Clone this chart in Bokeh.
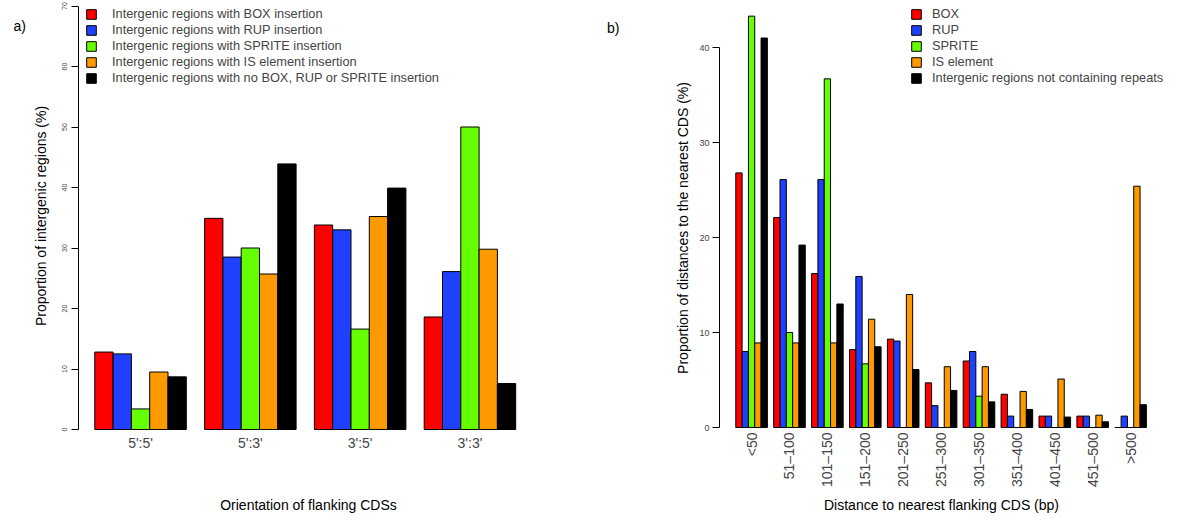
import math
from bokeh.plotting import figure
from bokeh.models import (Range1d, LinearAxis, FixedTicker, Legend, LegendItem,
                          Label, ColumnDataSource)
from bokeh.layouts import row
from bokeh.embed import file_html
from bokeh.resources import INLINE

FONT = "Liberation Sans"

# ---------------- data: panel a ----------------
orientations = ["5':5'", "5':3'", "3':5'", "3':3'"]
a_names = ["Intergenic regions with BOX insertion",
           "Intergenic regions with RUP insertion",
           "Intergenic regions with SPRITE insertion",
           "Intergenic regions with IS element insertion",
           "Intergenic regions with no BOX, RUP or SPRITE insertion"]
a_box = [12.8, 34.9, 33.8, 18.6]
a_rup = [12.5, 28.5, 33.0, 26.1]
a_sprite = [3.4, 30.0, 16.6, 50.0]
a_is = [9.5, 25.7, 35.2, 29.8]
a_none = [8.7, 43.9, 39.9, 7.6]
a_yticks = [0, 10, 20, 30, 40, 50, 60, 70]

# ---------------- data: panel b ----------------
distances = ["<50", "51\u2013100", "101\u2013150", "151\u2013200", "201\u2013250",
             "251\u2013300", "301\u2013350", "351\u2013400", "401\u2013450",
             "451\u2013500", ">500"]
b_names = ["BOX", "RUP", "SPRITE", "IS element",
           "Intergenic regions not containing repeats"]
b_box = [26.8, 22.1, 16.2, 8.2, 9.3, 4.7, 7.0, 3.5, 1.2, 1.2, 0.0]
b_rup = [8.0, 26.1, 26.1, 15.9, 9.1, 2.3, 8.0, 1.2, 1.2, 1.2, 1.2]
b_sprite = [43.3, 10.0, 36.7, 6.7, 0.0, 0.0, 3.3, 0.0, 0.0, 0.0, 0.0]
b_is = [8.9, 8.9, 8.9, 11.4, 14.0, 6.4, 6.4, 3.8, 5.1, 1.3, 25.4]
b_none = [41.0, 19.2, 13.0, 8.5, 6.1, 3.9, 2.7, 1.9, 1.1, 0.6, 2.4]
b_yticks = [0, 10, 20, 30, 40]

colors = ["#FF0000", "#2040FF", "#66FF00", "#FF9900", "#000000"]

NSER = 5          # bars per group
GAP = 1           # space between groups (in bar widths)

W, H = 592, 513   # each panel's canvas
MARGIN = 8        # page margin


class Mapper:
    """pixel (page) <-> data mapping of one panel, its frame filling the canvas."""
    def __init__(self, left_px, unit0_px, unit_px, zero_px, val_px):
        self.left_px = left_px
        self.unit0_px, self.unit_px = unit0_px, unit_px
        self.zero_px, self.val_px = zero_px, val_px

    def x(self, px):
        return (px - self.unit0_px) / self.unit_px

    def y(self, py):
        return (self.zero_px - py) / self.val_px

    def ranges(self):
        x0, x1 = self.x(self.left_px), self.x(self.left_px + W)
        y0, y1 = self.y(MARGIN + H), self.y(MARGIN)
        return Range1d(x0, x1), Range1d(y0, y1)


def base_fig(m):
    xr, yr = m.ranges()
    p = figure(width=W, height=H, x_range=xr, y_range=yr,
               output_backend="svg", toolbar_location=None,
               x_axis_location=None, y_axis_location=None,
               min_border=0, min_border_left=0, min_border_right=0,
               min_border_top=0, min_border_bottom=0)
    p.outline_line_color = None
    p.grid.visible = False
    p.background_fill_color = "white"
    p.border_fill_color = "white"
    return p


def grouped_bars(p, series, names, ncat):
    items = []
    for k, (vals, name, col) in enumerate(zip(series, names, colors)):
        xs = [1 + (NSER + GAP) * g + k + 0.5 for g in range(ncat)]
        src = ColumnDataSource(dict(x=xs, top=vals))
        r = p.vbar(x="x", top="top", bottom=0, width=1, source=src,
                   fill_color=col, line_color="black", line_width=1)
        items.append(LegendItem(label=name, renderers=[r]))
    return items


def group_centers(ncat):
    return [1 + (NSER + GAP) * g + NSER / 2 for g in range(ncat)]


def add_text(p, m, text, px, py, angle=0.0, align="center", baseline="middle",
             size="14px"):
    p.add_layout(Label(x=m.x(px), y=m.y(py), text=text, angle=angle,
                       text_align=align, text_baseline=baseline,
                       text_font=FONT, text_font_size=size, text_color="black"))


def make_legend(p, items, x, y, standoff):
    lg = Legend(items=items, location=(x, y), orientation="vertical",
                glyph_width=12, glyph_height=12, label_height=15, spacing=1,
                padding=0, margin=0, label_standoff=standoff,
                label_text_font=FONT, label_text_font_size="12.8px",
                background_fill_alpha=0, border_line_color=None)
    p.add_layout(lg, "center")


def y_axis(m, ticks, axis_px, **kw):
    return LinearAxis(ticker=FixedTicker(ticks=ticks, minor_ticks=[]),
                      bounds=(ticks[0], ticks[-1]), fixed_location=m.x(axis_px),
                      major_tick_out=7, major_tick_in=0, minor_tick_out=0,
                      minor_tick_in=0, major_label_text_font=FONT,
                      major_label_text_color="#444444",
                      axis_line_color="black", major_tick_line_color="black", **kw)


def x_axis(centers, labels, **kw):
    return LinearAxis(ticker=FixedTicker(ticks=centers, minor_ticks=[]),
                      major_label_overrides={c: lab for c, lab in zip(centers, labels)},
                      fixed_location=0, axis_line_color=None,
                      major_tick_line_color=None, major_tick_out=0, major_tick_in=0,
                      minor_tick_out=0, minor_tick_in=0, major_label_text_font=FONT,
                      major_label_text_font_size="14px", **kw)


# ---------------- panel a ----------------
ma = Mapper(left_px=MARGIN, unit0_px=84.0, unit_px=18.3, zero_px=437.0, val_px=6.05)
pa = base_fig(ma)
na = len(orientations)
items_a = grouped_bars(pa, [a_box, a_rup, a_sprite, a_is, a_none], a_names, na)
pa.add_layout(y_axis(ma, a_yticks, 85.5, major_label_orientation="vertical",
                     major_label_standoff=4, major_label_text_font_size="7px"), "left")
pa.add_layout(x_axis(group_centers(na), orientations, major_label_standoff=5), "below")
make_legend(pa, items_a, 85, 428, 15)
add_text(pa, ma, "a)", 21, 33, align="left")
add_text(pa, ma, "Proportion of intergenic regions (%)", 48, 223.5, angle=math.pi / 2)
add_text(pa, ma, "Orientation of flanking CDSs", 316, 512)

# ---------------- panel b ----------------
mb = Mapper(left_px=MARGIN + W, unit0_px=736.98, unit_px=6.3167, zero_px=435.0, val_px=9.5)
pb = base_fig(mb)
nb = len(distances)
items_b = grouped_bars(pb, [b_box, b_rup, b_sprite, b_is, b_none], b_names, nb)
pb.add_layout(y_axis(mb, b_yticks, 727, major_label_standoff=3,
                     major_label_text_font_size="9px"), "left")
pb.add_layout(x_axis(group_centers(nb), distances, major_label_orientation=math.pi / 2,
                     major_label_standoff=5), "below")
make_legend(pb, items_b, 318, 428, 10)
add_text(pb, mb, "b)", 614.5, 35, align="left")
add_text(pb, mb, "Proportion of distances to the nearest CDS (%)", 690, 235.5,
         angle=math.pi / 2)
add_text(pb, mb, "Distance to nearest flanking CDS (bp)", 949, 512)

layout = row(pa, pb, spacing=0)
open("out.html", "w").write(file_html(layout, INLINE))
